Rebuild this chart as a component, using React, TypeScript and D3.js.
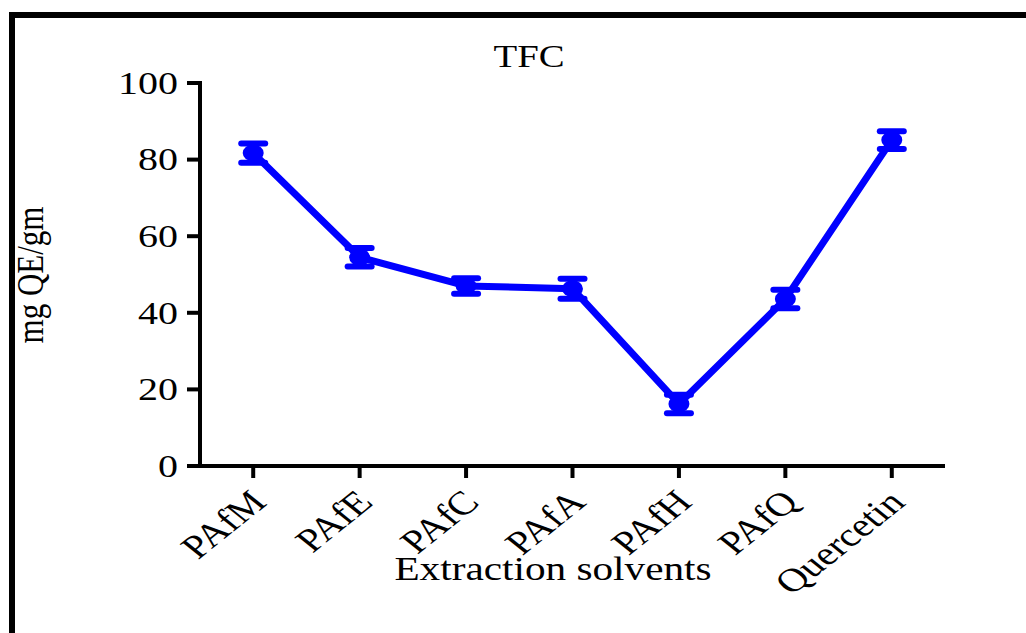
import React, { useEffect } from "react";
import * as d3 from "d3";

// Total flavonoid content by extraction solvent
const categories = ["PAfM", "PAfE", "PAfC", "PAfA", "PAfH", "PAfQ", "Quercetin"];
const means = [81.7, 54.5, 47.0, 46.3, 16.2, 43.6, 85.1];
const errors = [2.5, 2.4, 2.0, 2.6, 2.4, 2.4, 2.3];
const yTicks = [0, 20, 40, 60, 80, 100];

const W = 1026;
const H = 633;
const SX = 1.25; // horizontal text stretch
const FONT = "'Liberation Serif', 'Times New Roman', serif";
const BLUE = "#0000ff";

export default function App() {
  useEffect(() => {
    document.body.style.margin = "0";
  }, []);

  const x = d3.scalePoint<string>().domain(categories).range([200, 945]).padding(0.5);
  const y = d3.scaleLinear().domain([0, 100]).range([466, 83]);

  const pts = categories.map((c, i) => ({ c, x: x(c) as number, m: means[i], e: errors[i] }));
  const line = d3
    .line<{ x: number; m: number }>()
    .x((d) => d.x)
    .y((d) => y(d.m));

  const x0 = 200;
  const y0 = y(0);

  return (
    <svg width={W} height={H} style={{ display: "block", background: "#fff" }}>
      {/* frame */}
      <path d={`M12,${H} V15 H${W}`} fill="none" stroke="#000" strokeWidth={6} />

      {/* title */}
      <text
        transform={`translate(529,67) scale(${SX},1)`}
        textAnchor="middle"
        fontFamily={FONT}
        fontSize={31}
      >
        TFC
      </text>

      {/* y axis */}
      <line x1={x0} x2={x0} y1={y(100) - 2} y2={y0 + 2} stroke="#000" strokeWidth={4} />
      {yTicks.map((t) => (
        <g key={t}>
          <line x1={187} x2={x0} y1={y(t)} y2={y(t)} stroke="#000" strokeWidth={4} />
          <text
            transform={`translate(178,${y(t)}) scale(${SX},1)`}
            textAnchor="end"
            dy="0.34em"
            fontFamily={FONT}
            fontSize={32}
          >
            {t}
          </text>
        </g>
      ))}

      {/* x axis */}
      <line x1={x0 - 2} x2={945} y1={y0} y2={y0} stroke="#000" strokeWidth={4} />
      {pts.map((p) => (
        <g key={p.c}>
          <line x1={p.x} x2={p.x} y1={y0} y2={y0 + 12} stroke="#000" strokeWidth={4} />
          <text
            transform={`translate(${p.x + 15},504) scale(${SX},1) rotate(-45)`}
            textAnchor="end"
            fontFamily={FONT}
            fontSize={33}
          >
            {p.c}
          </text>
        </g>
      ))}

      {/* axis titles */}
      <text
        transform={`translate(43,275) scale(${SX},1) rotate(-90)`}
        textAnchor="middle"
        fontFamily={FONT}
        fontSize={31}
      >
        mg QE/gm
      </text>
      <text
        transform={`translate(553,580) scale(${SX},1)`}
        textAnchor="middle"
        fontFamily={FONT}
        fontSize={33}
      >
        Extraction solvents
      </text>

      {/* series line */}
      <path d={line(pts) ?? ""} fill="none" stroke={BLUE} strokeWidth={7} strokeLinejoin="round" />

      {/* error bars and markers */}
      {pts.map((p) => (
        <g key={`m-${p.c}`}>
          <line x1={p.x} x2={p.x} y1={y(p.m + p.e)} y2={y(p.m - p.e)} stroke={BLUE} strokeWidth={6} />
          <line x1={p.x - 12} x2={p.x + 12} y1={y(p.m + p.e)} y2={y(p.m + p.e)} stroke={BLUE} strokeWidth={6} strokeLinecap="round" />
          <line x1={p.x - 12} x2={p.x + 12} y1={y(p.m - p.e)} y2={y(p.m - p.e)} stroke={BLUE} strokeWidth={6} strokeLinecap="round" />
          <ellipse cx={p.x} cy={y(p.m)} rx={10.5} ry={8.5} fill={BLUE} />
        </g>
      ))}
    </svg>
  );
}
